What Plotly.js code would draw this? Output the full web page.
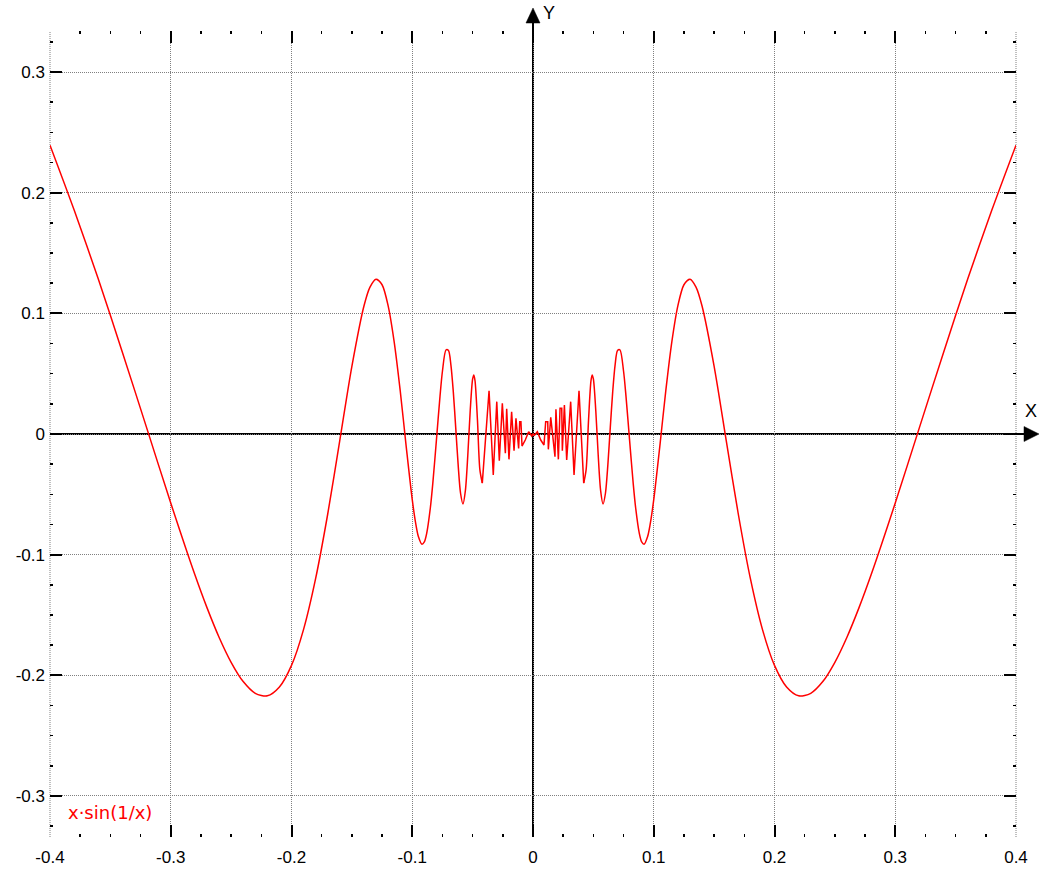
<!DOCTYPE html>
<html>
<head>
<meta charset="utf-8">
<script src="https://cdn.plot.ly/plotly-3.0.1.min.js"></script>
<style>html,body{margin:0;padding:0;background:#fff;}#chart{width:1039px;height:869px;}</style>
</head>
<body>
<div id="chart"></div>
<script>
// Curve values (x, y)
const leftOuterX = [-0.4,-0.38,-0.36,-0.34,-0.32,-0.3,-0.28,-0.27,-0.26,-0.25,-0.24,-0.23,-0.22,-0.21,-0.2,-0.19,-0.18,-0.17,-0.16,-0.15,-0.14,-0.135,-0.13,-0.125,-0.12,-0.115,-0.11,-0.105,-0.1,-0.097,-0.095,-0.092,-0.09,-0.088,-0.085,-0.083,-0.08,-0.077,-0.075,-0.072,-0.07,-0.068,-0.066,-0.064,-0.062,-0.06,-0.058,-0.056,-0.054,-0.052,-0.05,-0.049,-0.048,-0.046,-0.044,-0.042];
const leftOuterY = [0.2394,0.1856,0.1284,0.0676,0.0053,-0.0572,-0.1167,-0.1439,-0.1684,-0.1892,-0.2052,-0.2149,-0.2170,-0.2097,-0.1918,-0.1619,-0.1197,-0.0663,-0.0053,0.0561,0.1061,0.1218,0.1283,0.1237,0.1064,0.0766,0.0361,-0.0104,-0.0544,-0.0750,-0.0847,-0.0913,-0.0894,-0.0821,-0.0611,-0.0411,-0.0053,0.0314,0.0520,0.0698,0.0692,0.0573,0.0349,0.0053,-0.0254,-0.0491,-0.0580,-0.0469,-0.0176,0.0193,0.0456,0.0490,0.0440,0.0115,-0.0296,-0.0407];

const centerX = [-0.042,-0.0364,-0.0329,-0.030,-0.0279,-0.0254,-0.0229,-0.0218,-0.0199,-0.0177,-0.0157,-0.0141,-0.0119,-0.0110,-0.0100,-0.0091,-0.0064,-0.0036,-0.0010,0,0.0012,0.0036,0.0064,0.0091,0.0105,0.0122,0.0127,0.0147,0.0182,0.019,0.021,0.0224,0.0238,0.0243,0.026,0.0279,0.0312,0.034,0.0381,0.042];
const centerY = [-0.0407,0.0359,-0.034,0.0268,-0.0221,0.0254,-0.016,0.0209,-0.021,0.0185,-0.0138,0.013,-0.0119,0.0102,0.0102,-0.010,-0.005,0.0019,-0.0017,0,-0.001,0.0019,-0.005,-0.0091,0.0102,0.0102,-0.0127,0.0138,-0.0188,0.0205,-0.021,0.0213,0.0213,-0.0138,0.024,-0.0215,0.0268,-0.034,0.0359,-0.0407];

const rightOuterX = [0.042,0.044,0.046,0.048,0.049,0.05,0.052,0.054,0.056,0.058,0.06,0.062,0.064,0.066,0.068,0.07,0.072,0.075,0.077,0.08,0.083,0.085,0.088,0.09,0.092,0.095,0.097,0.1,0.105,0.11,0.115,0.12,0.125,0.13,0.135,0.14,0.15,0.16,0.17,0.18,0.19,0.2,0.21,0.22,0.23,0.24,0.25,0.26,0.27,0.28,0.3,0.32,0.34,0.36,0.38,0.4];
const rightOuterY = [-0.0407,-0.0296,0.0115,0.0440,0.0490,0.0456,0.0193,-0.0176,-0.0469,-0.0580,-0.0491,-0.0254,0.0053,0.0349,0.0573,0.0692,0.0698,0.0520,0.0314,-0.0053,-0.0411,-0.0611,-0.0821,-0.0894,-0.0913,-0.0847,-0.0750,-0.0544,-0.0104,0.0361,0.0766,0.1064,0.1237,0.1283,0.1218,0.1061,0.0561,-0.0053,-0.0663,-0.1197,-0.1619,-0.1918,-0.2097,-0.2170,-0.2149,-0.2052,-0.1892,-0.1684,-0.1439,-0.1167,-0.0572,0.0053,0.0676,0.1284,0.1856,0.2394];

// Tick labels
const xTickVals = [-0.4,-0.3,-0.2,-0.1,0,0.1,0.2,0.3,0.4];
const xTickText = ["-0.4","-0.3","-0.2","-0.1","0","0.1","0.2","0.3","0.4"];
const yTickVals = [-0.3,-0.2,-0.1,0,0.1,0.2,0.3];
const yTickText = ["-0.3","-0.2","-0.1","0","0.1","0.2","0.3"];
const seriesName = "x·sin(1/x)";

const lineStyle = {color:'#ff0000', width:1.5};
const traces = [
  {x:leftOuterX, y:leftOuterY, mode:'lines', line:Object.assign({shape:'spline', smoothing:0.8}, lineStyle), hoverinfo:'skip'},
  {x:centerX, y:centerY, mode:'lines', line:Object.assign({shape:'linear'}, lineStyle), hoverinfo:'skip'},
  {x:rightOuterX, y:rightOuterY, mode:'lines', line:Object.assign({shape:'spline', smoothing:0.8}, lineStyle), hoverinfo:'skip'}
];

const tickFont = {family:'"Liberation Sans", Arial, sans-serif', size:17, color:'#000'};
const gridColor = '#808080';
const axisCommon = {
  showline:false, zeroline:false, mirror:'ticks',
  ticks:'inside', ticklen:12, tickwidth:2, tickcolor:'#000',
  showgrid:true, gridcolor:gridColor, gridwidth:1, griddash:'1px,1px',
  tickmode:'array', tickfont:tickFont,
  minor:{tickmode:'linear', tick0:0, dtick:0.025, ticks:'inside', ticklen:3, tickwidth:1.5, tickcolor:'#000', showgrid:false}
};

const L = 50, R = 1016, T = 31, B = 837;
const W = R - L, H = B - T;
const px = v => (v - L) / W;
const py = v => (B - v) / H;

const layout = {
  width:1039, height:869,
  margin:{l:L, r:1039-R, t:T, b:869-B, pad:0},
  paper_bgcolor:'#fff', plot_bgcolor:'#fff',
  showlegend:false,
  xaxis:Object.assign({}, axisCommon, {range:[-0.4,0.4], tickvals:xTickVals, ticktext:xTickText, ticklabelstandoff:8}),
  yaxis:Object.assign({}, axisCommon, {range:[-0.334,0.334], tickvals:yTickVals, ticktext:yTickText, ticklabelstandoff:4}),
  shapes:[
    {type:'line', xref:'paper', yref:'paper', x0:0, x1:0, y0:0, y1:1, line:{color:gridColor, width:1, dash:'1px,1px'}, layer:'below'},
    {type:'line', xref:'paper', yref:'paper', x0:1, x1:1, y0:0, y1:1, line:{color:gridColor, width:1, dash:'1px,1px'}, layer:'below'},
    {type:'line', xref:'paper', yref:'paper', x0:0.5, x1:0.5, y0:0, y1:py(23), line:{color:'#000', width:2}, layer:'below'},
    {type:'line', xref:'paper', yref:'paper', x0:0, x1:px(1025), y0:0.5, y1:0.5, line:{color:'#000', width:2}, layer:'below'},
    {type:'path', xref:'paper', yref:'paper', path:`M ${px(533)} ${py(8)} L ${px(526)} ${py(23)} L ${px(540)} ${py(23)} Z`, fillcolor:'#000', line:{color:'#000', width:0.5}},
    {type:'path', xref:'paper', yref:'paper', path:`M ${px(1039)} ${py(434)} L ${px(1024)} ${py(426.5)} L ${px(1024)} ${py(441.5)} Z`, fillcolor:'#000', line:{color:'#000', width:0.5}}
  ],
  annotations:[
    {xref:'paper', yref:'paper', x:px(549), y:py(13), text:'Y', showarrow:false, xanchor:'center', yanchor:'middle', font:{family:'"Liberation Sans", Arial, sans-serif', size:18, color:'#000'}},
    {xref:'paper', yref:'paper', x:px(1031), y:py(411), text:'X', showarrow:false, xanchor:'center', yanchor:'middle', font:{family:'"Liberation Sans", Arial, sans-serif', size:18, color:'#000'}},
    {xref:'paper', yref:'paper', x:px(66), y:py(812), text:seriesName, showarrow:false, xanchor:'left', yanchor:'middle', font:{family:'"DejaVu Sans", Verdana, sans-serif', size:18, color:'#ff0000'}}
  ]
};

Plotly.newPlot('chart', traces, layout, {displayModeBar:false, staticPlot:true});
</script>
</body>
</html>
